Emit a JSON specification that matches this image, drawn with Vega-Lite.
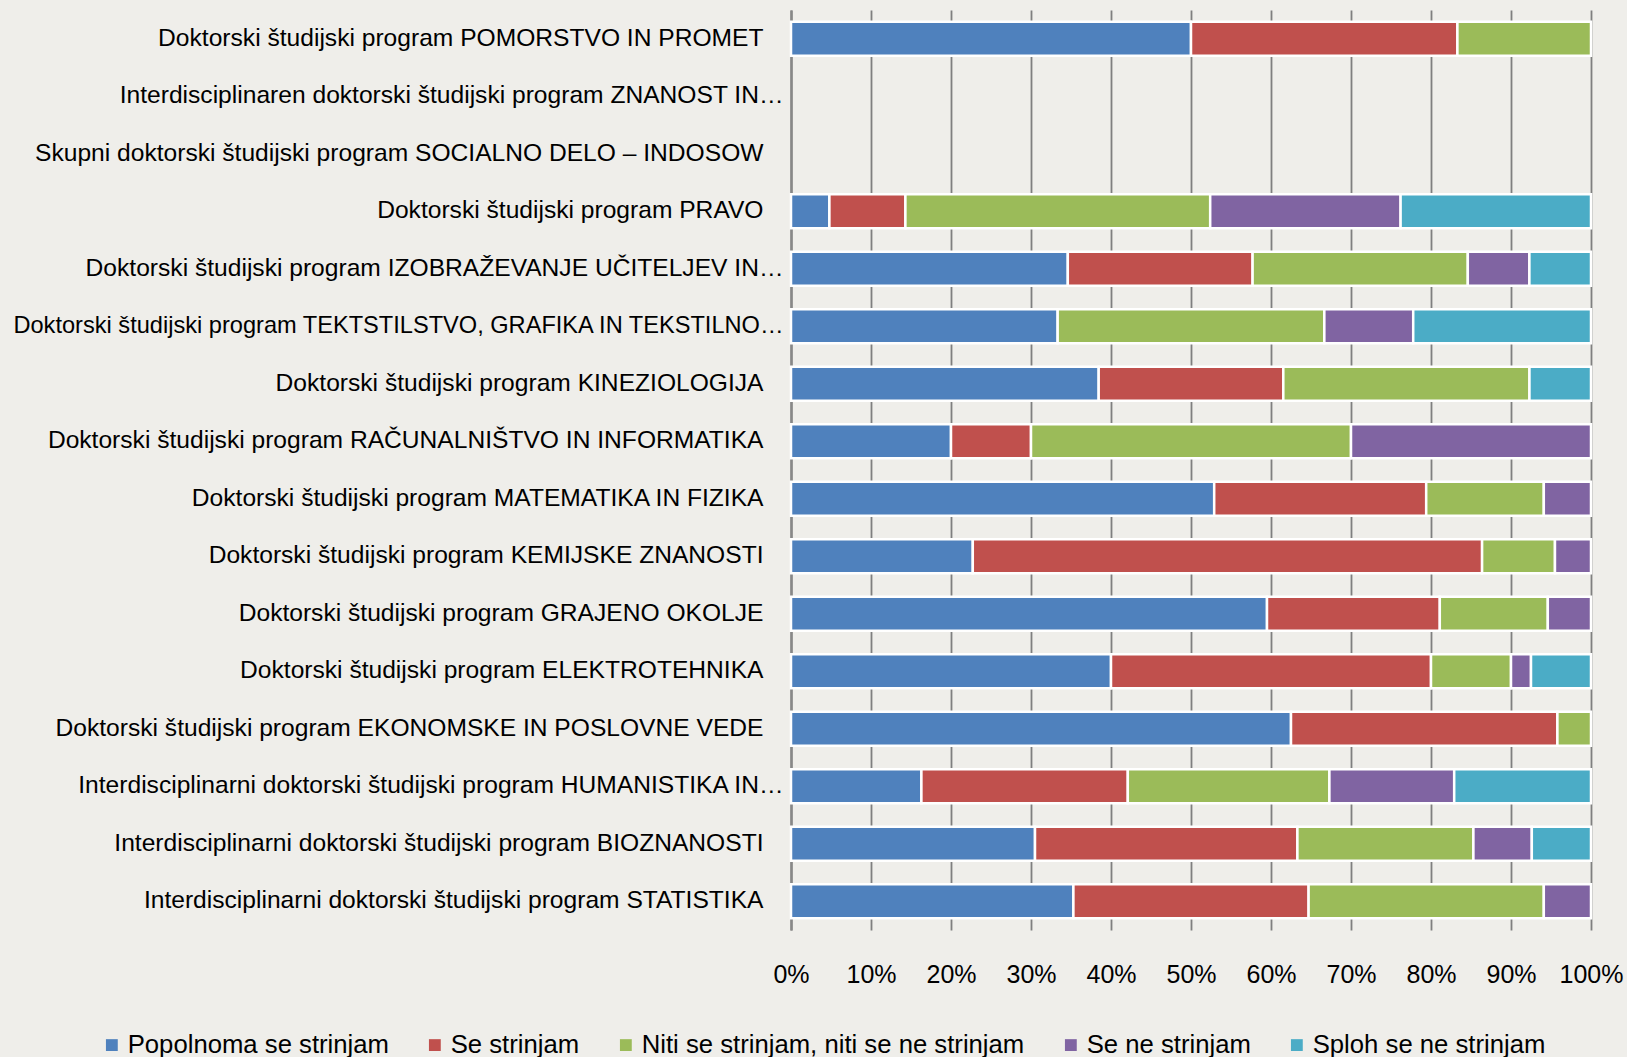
{
  "$schema": "https://vega.github.io/schema/vega-lite/v6.json",
  "width": 800,
  "height": 920,
  "autosize": {"type": "none"},
  "padding": {"left": 791, "top": 10, "right": 36, "bottom": 127},
  "background": "#efeeea",
  "config": {
    "view": {"stroke": null},
    "font": "Liberation Sans",
    "text": {"font": "Liberation Sans"}
  },
  "data": {
    "values": [
      {"p": "Doktorski študijski program POMORSTVO IN PROMET", "c": "Popolnoma se strinjam", "v": 50.0},
      {"p": "Doktorski študijski program POMORSTVO IN PROMET", "c": "Se strinjam", "v": 33.3},
      {"p": "Doktorski študijski program POMORSTVO IN PROMET", "c": "Niti se strinjam, niti se ne strinjam", "v": 16.7},
      {"p": "Doktorski študijski program PRAVO", "c": "Popolnoma se strinjam", "v": 4.8},
      {"p": "Doktorski študijski program PRAVO", "c": "Se strinjam", "v": 9.5},
      {"p": "Doktorski študijski program PRAVO", "c": "Niti se strinjam, niti se ne strinjam", "v": 38.1},
      {"p": "Doktorski študijski program PRAVO", "c": "Se ne strinjam", "v": 23.8},
      {"p": "Doktorski študijski program PRAVO", "c": "Sploh se ne strinjam", "v": 23.8},
      {"p": "Doktorski študijski program IZOBRAŽEVANJE UČITELJEV IN…", "c": "Popolnoma se strinjam", "v": 34.6},
      {"p": "Doktorski študijski program IZOBRAŽEVANJE UČITELJEV IN…", "c": "Se strinjam", "v": 23.1},
      {"p": "Doktorski študijski program IZOBRAŽEVANJE UČITELJEV IN…", "c": "Niti se strinjam, niti se ne strinjam", "v": 26.9},
      {"p": "Doktorski študijski program IZOBRAŽEVANJE UČITELJEV IN…", "c": "Se ne strinjam", "v": 7.7},
      {"p": "Doktorski študijski program IZOBRAŽEVANJE UČITELJEV IN…", "c": "Sploh se ne strinjam", "v": 7.7},
      {"p": "Doktorski študijski program TEKTSTILSTVO, GRAFIKA IN TEKSTILNO…", "c": "Popolnoma se strinjam", "v": 33.3},
      {"p": "Doktorski študijski program TEKTSTILSTVO, GRAFIKA IN TEKSTILNO…", "c": "Niti se strinjam, niti se ne strinjam", "v": 33.3},
      {"p": "Doktorski študijski program TEKTSTILSTVO, GRAFIKA IN TEKSTILNO…", "c": "Se ne strinjam", "v": 11.1},
      {"p": "Doktorski študijski program TEKTSTILSTVO, GRAFIKA IN TEKSTILNO…", "c": "Sploh se ne strinjam", "v": 22.2},
      {"p": "Doktorski študijski program KINEZIOLOGIJA", "c": "Popolnoma se strinjam", "v": 38.5},
      {"p": "Doktorski študijski program KINEZIOLOGIJA", "c": "Se strinjam", "v": 23.1},
      {"p": "Doktorski študijski program KINEZIOLOGIJA", "c": "Niti se strinjam, niti se ne strinjam", "v": 30.8},
      {"p": "Doktorski študijski program KINEZIOLOGIJA", "c": "Sploh se ne strinjam", "v": 7.7},
      {"p": "Doktorski študijski program RAČUNALNIŠTVO IN INFORMATIKA", "c": "Popolnoma se strinjam", "v": 20.0},
      {"p": "Doktorski študijski program RAČUNALNIŠTVO IN INFORMATIKA", "c": "Se strinjam", "v": 10.0},
      {"p": "Doktorski študijski program RAČUNALNIŠTVO IN INFORMATIKA", "c": "Niti se strinjam, niti se ne strinjam", "v": 40.0},
      {"p": "Doktorski študijski program RAČUNALNIŠTVO IN INFORMATIKA", "c": "Se ne strinjam", "v": 30.0},
      {"p": "Doktorski študijski program MATEMATIKA IN FIZIKA", "c": "Popolnoma se strinjam", "v": 52.9},
      {"p": "Doktorski študijski program MATEMATIKA IN FIZIKA", "c": "Se strinjam", "v": 26.5},
      {"p": "Doktorski študijski program MATEMATIKA IN FIZIKA", "c": "Niti se strinjam, niti se ne strinjam", "v": 14.7},
      {"p": "Doktorski študijski program MATEMATIKA IN FIZIKA", "c": "Se ne strinjam", "v": 5.9},
      {"p": "Doktorski študijski program KEMIJSKE ZNANOSTI", "c": "Popolnoma se strinjam", "v": 22.7},
      {"p": "Doktorski študijski program KEMIJSKE ZNANOSTI", "c": "Se strinjam", "v": 63.6},
      {"p": "Doktorski študijski program KEMIJSKE ZNANOSTI", "c": "Niti se strinjam, niti se ne strinjam", "v": 9.1},
      {"p": "Doktorski študijski program KEMIJSKE ZNANOSTI", "c": "Se ne strinjam", "v": 4.5},
      {"p": "Doktorski študijski program GRAJENO OKOLJE", "c": "Popolnoma se strinjam", "v": 59.5},
      {"p": "Doktorski študijski program GRAJENO OKOLJE", "c": "Se strinjam", "v": 21.6},
      {"p": "Doktorski študijski program GRAJENO OKOLJE", "c": "Niti se strinjam, niti se ne strinjam", "v": 13.5},
      {"p": "Doktorski študijski program GRAJENO OKOLJE", "c": "Se ne strinjam", "v": 5.4},
      {"p": "Doktorski študijski program ELEKTROTEHNIKA", "c": "Popolnoma se strinjam", "v": 40.0},
      {"p": "Doktorski študijski program ELEKTROTEHNIKA", "c": "Se strinjam", "v": 40.0},
      {"p": "Doktorski študijski program ELEKTROTEHNIKA", "c": "Niti se strinjam, niti se ne strinjam", "v": 10.0},
      {"p": "Doktorski študijski program ELEKTROTEHNIKA", "c": "Se ne strinjam", "v": 2.5},
      {"p": "Doktorski študijski program ELEKTROTEHNIKA", "c": "Sploh se ne strinjam", "v": 7.5},
      {"p": "Doktorski študijski program EKONOMSKE IN POSLOVNE VEDE", "c": "Popolnoma se strinjam", "v": 62.5},
      {"p": "Doktorski študijski program EKONOMSKE IN POSLOVNE VEDE", "c": "Se strinjam", "v": 33.3},
      {"p": "Doktorski študijski program EKONOMSKE IN POSLOVNE VEDE", "c": "Niti se strinjam, niti se ne strinjam", "v": 4.2},
      {"p": "Interdisciplinarni doktorski študijski program HUMANISTIKA IN…", "c": "Popolnoma se strinjam", "v": 16.3},
      {"p": "Interdisciplinarni doktorski študijski program HUMANISTIKA IN…", "c": "Se strinjam", "v": 25.8},
      {"p": "Interdisciplinarni doktorski študijski program HUMANISTIKA IN…", "c": "Niti se strinjam, niti se ne strinjam", "v": 25.2},
      {"p": "Interdisciplinarni doktorski študijski program HUMANISTIKA IN…", "c": "Se ne strinjam", "v": 15.6},
      {"p": "Interdisciplinarni doktorski študijski program HUMANISTIKA IN…", "c": "Sploh se ne strinjam", "v": 17.1},
      {"p": "Interdisciplinarni doktorski študijski program BIOZNANOSTI", "c": "Popolnoma se strinjam", "v": 30.5},
      {"p": "Interdisciplinarni doktorski študijski program BIOZNANOSTI", "c": "Se strinjam", "v": 32.8},
      {"p": "Interdisciplinarni doktorski študijski program BIOZNANOSTI", "c": "Niti se strinjam, niti se ne strinjam", "v": 22.0},
      {"p": "Interdisciplinarni doktorski študijski program BIOZNANOSTI", "c": "Se ne strinjam", "v": 7.3},
      {"p": "Interdisciplinarni doktorski študijski program BIOZNANOSTI", "c": "Sploh se ne strinjam", "v": 7.4},
      {"p": "Interdisciplinarni doktorski študijski program STATISTIKA", "c": "Popolnoma se strinjam", "v": 35.3},
      {"p": "Interdisciplinarni doktorski študijski program STATISTIKA", "c": "Se strinjam", "v": 29.4},
      {"p": "Interdisciplinarni doktorski študijski program STATISTIKA", "c": "Niti se strinjam, niti se ne strinjam", "v": 29.4},
      {"p": "Interdisciplinarni doktorski študijski program STATISTIKA", "c": "Se ne strinjam", "v": 5.9}
    ]
  },
  "transform": [
    {"calculate": "indexof(['Popolnoma se strinjam', 'Se strinjam', 'Niti se strinjam, niti se ne strinjam', 'Se ne strinjam', 'Sploh se ne strinjam'], datum.c)", "as": "ci"}
  ],
  "mark": {"type": "bar", "stroke": "#ffffff", "strokeWidth": 2.5},
  "encoding": {
    "y": {
      "field": "p",
      "type": "nominal",
      "title": null,
      "scale": {
        "domain": [
          "Doktorski študijski program POMORSTVO IN PROMET",
          "Interdisciplinaren doktorski študijski program ZNANOST IN…",
          "Skupni doktorski študijski program SOCIALNO DELO – INDOSOW",
          "Doktorski študijski program PRAVO",
          "Doktorski študijski program IZOBRAŽEVANJE UČITELJEV IN…",
          "Doktorski študijski program TEKTSTILSTVO, GRAFIKA IN TEKSTILNO…",
          "Doktorski študijski program KINEZIOLOGIJA",
          "Doktorski študijski program RAČUNALNIŠTVO IN INFORMATIKA",
          "Doktorski študijski program MATEMATIKA IN FIZIKA",
          "Doktorski študijski program KEMIJSKE ZNANOSTI",
          "Doktorski študijski program GRAJENO OKOLJE",
          "Doktorski študijski program ELEKTROTEHNIKA",
          "Doktorski študijski program EKONOMSKE IN POSLOVNE VEDE",
          "Interdisciplinarni doktorski študijski program HUMANISTIKA IN…",
          "Interdisciplinarni doktorski študijski program BIOZNANOSTI",
          "Interdisciplinarni doktorski študijski program STATISTIKA"
        ],
        "paddingInner": 0.41,
        "paddingOuter": 0.205
      },
      "axis": {
        "domain": true,
        "domainColor": "#888888",
        "domainWidth": 2.5,
        "ticks": false,
        "grid": false,
        "labelFont": "Liberation Sans",
        "labelFontSize": {"condition": {"test": "indexof(datum.label, 'TEKSTILNO') >= 0", "value": 23.6}, "value": 24.6},
        "labelColor": "#000000",
        "labelLimit": 900,
        "labelPadding": {"condition": {"test": "indexof(datum.label, '…') >= 0", "value": 8}, "value": 28}
      }
    },
    "x": {
      "field": "v",
      "type": "quantitative",
      "stack": "normalize",
      "title": null,
      "scale": {"domain": [0, 1], "nice": false},
      "axis": {
        "orient": "bottom",
        "values": [0, 0.1, 0.2, 0.3, 0.4, 0.5, 0.6, 0.7, 0.8, 0.9, 1],
        "format": ".0%",
        "domain": false,
        "ticks": false,
        "grid": true,
        "gridColor": "#7f7f7f",
        "gridWidth": 1.8,
        "labelFont": "Liberation Sans",
        "labelFontSize": 25,
        "labelColor": "#000000",
        "labelPadding": 32,
        "labelFlush": false,
        "labelOverlap": false
      }
    },
    "order": {"field": "ci", "type": "quantitative", "sort": "ascending"},
    "color": {
      "field": "c",
      "type": "nominal",
      "sort": ["Popolnoma se strinjam", "Se strinjam", "Niti se strinjam, niti se ne strinjam", "Se ne strinjam", "Sploh se ne strinjam"],
      "scale": {
        "domain": ["Popolnoma se strinjam", "Se strinjam", "Niti se strinjam, niti se ne strinjam", "Se ne strinjam", "Sploh se ne strinjam"],
        "range": ["#4f81bd", "#c0504d", "#9bbb59", "#8064a2", "#4bacc6"]
      },
      "legend": {
        "title": null,
        "orient": "none",
        "direction": "horizontal",
        "legendX": -692,
        "legendY": 1022,
        "symbolType": "square",
        "symbolSize": 140,
        "symbolStrokeWidth": 0,
        "labelFont": "Liberation Sans",
        "labelFontSize": 25.7,
        "labelColor": "#000000",
        "labelOffset": 3,
        "columnPadding": 33,
        "labelLimit": 600
      }
    }
  }
}
